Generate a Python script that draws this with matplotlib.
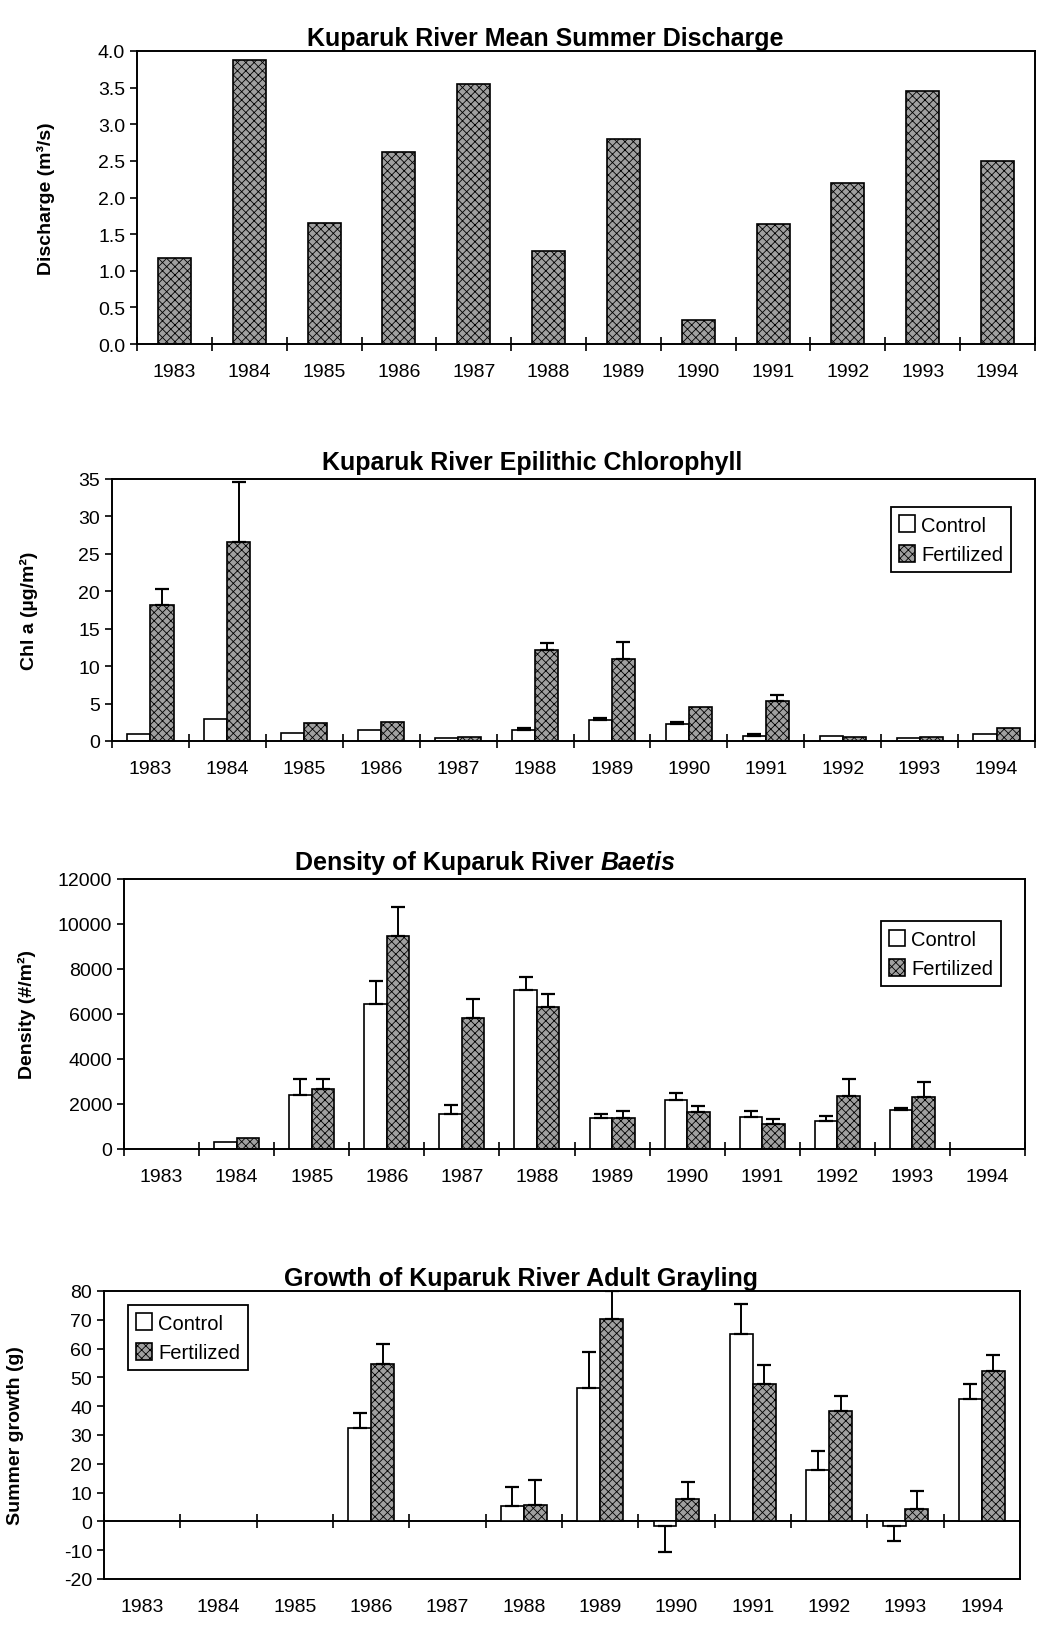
import matplotlib

matplotlib.use("Agg")

import matplotlib.pyplot as plt
import numpy as np
from matplotlib.patches import Patch

FIG_W, FIG_H = 1045, 1649

YEARS = ["1983", "1984", "1985", "1986", "1987", "1988",
         "1989", "1990", "1991", "1992", "1993", "1994"]

DISCHARGE = [1.17, 3.88, 1.65, 2.62, 3.55, 1.27, 2.80, 0.33, 1.64, 2.20, 3.45, 2.50]

CHL_CONTROL = [0.95, 2.95, 1.05, 1.5, 0.4, 1.5, 2.8, 2.3, 0.7, 0.65, 0.4, 1.0]
CHL_CONTROL_ERR = [0, 0, 0, 0, 0, 0.2, 0.3, 0.3, 0.2, 0, 0, 0]
CHL_FERT = [18.2, 26.6, 2.35, 2.6, 0.5, 12.2, 11.0, 4.5, 5.4, 0.55, 0.5, 1.8]
CHL_FERT_ERR = [2.1, 8.0, 0, 0, 0, 0.9, 2.2, 0, 0.7, 0, 0, 0]

BAETIS_CONTROL = [np.nan, 290, 2400, 6430, 1560, 7080, 1400, 2190, 1430, 1260, 1720, np.nan]
BAETIS_CONTROL_ERR = [np.nan, 0, 720, 1020, 380, 570, 150, 310, 260, 190, 120, np.nan]
BAETIS_FERT = [np.nan, 510, 2670, 9480, 5830, 6290, 1370, 1640, 1100, 2350, 2330, np.nan]
BAETIS_FERT_ERR = [np.nan, 0, 420, 1290, 820, 620, 340, 260, 220, 750, 670, np.nan]

GROWTH_CONTROL = [np.nan, np.nan, np.nan, 32.6, np.nan, 5.3, 46.4, -1.5, 65.2, 17.7, -1.6, 42.5]
GROWTH_CONTROL_ERR = [np.nan, np.nan, np.nan, 4.9, np.nan, 6.5, 12.5, 9.1, 10.4, 6.8, 5.2, 5.2]
GROWTH_FERT = [np.nan, np.nan, np.nan, 54.8, np.nan, 5.6, 70.3, 7.8, 47.8, 38.2, 4.3, 52.3]
GROWTH_FERT_ERR = [np.nan, np.nan, np.nan, 6.8, np.nan, 8.8, 9.6, 6.0, 6.5, 5.3, 6.3, 5.6]

plt.rcParams["font.family"] = ["Liberation Sans", "DejaVu Sans"]
plt.rcParams["hatch.linewidth"] = 0.6
plt.rcParams["axes.unicode_minus"] = False

FERT_STYLE = dict(facecolor="#a0a0a0", edgecolor="black", hatch="xxxx", linewidth=1.2)
CONTROL_STYLE = dict(facecolor="white", edgecolor="black", linewidth=1.2)
TITLE_SIZE = 18


def add_axes(fig, left, top, right, bottom):
    return fig.add_axes([left / FIG_W, 1 - bottom / FIG_H,
                         (right - left) / FIG_W, (bottom - top) / FIG_H])


def style_axis(ax, ylabel, label_x, boundary_axis=None):
    x = np.arange(len(YEARS))
    ax.set_xlim(-0.5, len(YEARS) - 0.5)
    ax.set_xticks(x)
    ax.set_xticklabels(YEARS, fontsize=14)
    ax.tick_params(axis="x", length=0, pad=14)
    ax.tick_params(axis="y", direction="out", length=5, width=1.2, labelsize=14)
    for spine in ax.spines.values():
        spine.set_linewidth(1.4)
    target = boundary_axis if boundary_axis is not None else ax
    target.set_xticks(np.arange(len(YEARS) + 1) - 0.5, minor=True)
    target.tick_params(axis="x", which="minor", direction="inout", length=10, width=1.2)
    ax.set_ylabel(ylabel, fontsize=14, fontweight="bold")
    ax.yaxis.set_label_coords(label_x, 0.5)


def paired_bars(ax, control, control_err, fert, fert_err, width=0.3):
    x = np.arange(len(YEARS))
    control = np.asarray(control, dtype=float)
    fert = np.asarray(fert, dtype=float)
    for values, errs, offset, style in (
        (control, np.asarray(control_err, dtype=float), -width / 2, CONTROL_STYLE),
        (fert, np.asarray(fert_err, dtype=float), width / 2, FERT_STYLE),
    ):
        ax.bar(x + offset, values, width, zorder=2, **style)
        lower = np.where(values < 0, errs, 0)
        upper = np.where(values >= 0, errs, 0)
        keep = ~np.isnan(values) & (errs > 0)
        ax.errorbar((x + offset)[keep], values[keep],
                    yerr=[lower[keep], upper[keep]], fmt="none",
                    ecolor="black", elinewidth=1.4, capsize=5, capthick=1.6, zorder=3)


def add_legend(ax, loc, anchor):
    handles = [Patch(label="Control", **CONTROL_STYLE),
               Patch(label="Fertilized", **FERT_STYLE)]
    leg = ax.legend(handles=handles, loc=loc, bbox_to_anchor=anchor, fontsize=14.5,
                    handlelength=0.8, handleheight=0.9, handletextpad=0.3,
                    fancybox=False, framealpha=1, edgecolor="black",
                    borderpad=0.4, labelspacing=0.5)
    leg.get_frame().set_linewidth(1.3)


def main():
    fig = plt.figure(figsize=(FIG_W / 100, FIG_H / 100), dpi=100)
    x = np.arange(len(YEARS))

    # discharge
    ax1 = add_axes(fig, 137, 52, 1035, 345)
    ax1.bar(x, DISCHARGE, 0.44, zorder=2, **FERT_STYLE)
    ax1.set_ylim(0, 4.0)
    ax1.set_yticks(np.arange(0, 4.01, 0.5))
    ax1.set_yticklabels([f"{v:.1f}" for v in np.arange(0, 4.01, 0.5)])
    style_axis(ax1, "Discharge (m³/s)", -0.091)
    ax1.text(0.455, 1.005, "Kuparuk River Mean Summer Discharge", transform=ax1.transAxes,
             ha="center", va="bottom", fontsize=TITLE_SIZE, fontweight="bold")

    # chlorophyll
    ax2 = add_axes(fig, 112, 480, 1035, 742)
    paired_bars(ax2, CHL_CONTROL, CHL_CONTROL_ERR, CHL_FERT, CHL_FERT_ERR, width=0.3)
    ax2.set_ylim(0, 35)
    ax2.set_yticks(np.arange(0, 36, 5))
    style_axis(ax2, "Chl a (µg/m²)", -0.080)
    ax2.text(0.455, 1.02, "Kuparuk River Epilithic Chlorophyll", transform=ax2.transAxes,
             ha="center", va="bottom", fontsize=TITLE_SIZE, fontweight="bold")
    add_legend(ax2, "upper right", (0.985, 0.93))

    # baetis
    ax3 = add_axes(fig, 124, 880, 1025, 1150)
    paired_bars(ax3, BAETIS_CONTROL, BAETIS_CONTROL_ERR, BAETIS_FERT, BAETIS_FERT_ERR, width=0.3)
    ax3.set_ylim(0, 12000)
    ax3.set_yticks(np.arange(0, 12001, 2000))
    style_axis(ax3, "Density (#/m²)", -0.098)
    title = ax3.text(0.19, 1.02, "Density of Kuparuk River ", transform=ax3.transAxes,
                     ha="left", va="bottom", fontsize=TITLE_SIZE, fontweight="bold")
    ax3.annotate("Baetis", xy=(1, 0), xycoords=title, xytext=(0, 0),
                 textcoords="offset points", ha="left", va="bottom",
                 fontsize=TITLE_SIZE, fontweight="bold", fontstyle="italic")
    add_legend(ax3, "upper right", (0.985, 0.88))

    # grayling growth
    ax4 = add_axes(fig, 104, 1292, 1020, 1580)
    paired_bars(ax4, GROWTH_CONTROL, GROWTH_CONTROL_ERR, GROWTH_FERT, GROWTH_FERT_ERR, width=0.3)
    ax4.set_ylim(-20, 80)
    ax4.set_yticks(np.arange(-20, 81, 10))
    zero_axis = ax4.secondary_xaxis(0.2)
    zero_axis.spines["bottom"].set_linewidth(1.4)
    zero_axis.tick_params(axis="x", which="major", length=0, labelbottom=False)
    zero_axis.set_xticks([])
    style_axis(ax4, "Summer growth (g)", -0.087, boundary_axis=zero_axis)
    ax4.tick_params(axis="x", which="minor", length=0)
    ax4.text(0.455, 1.005, "Growth of Kuparuk River Adult Grayling", transform=ax4.transAxes,
             ha="center", va="bottom", fontsize=TITLE_SIZE, fontweight="bold")
    add_legend(ax4, "upper left", (0.015, 0.985))

    fig.savefig("out.png", dpi=100)
    plt.close(fig)


if __name__ == "__main__":
    main()
